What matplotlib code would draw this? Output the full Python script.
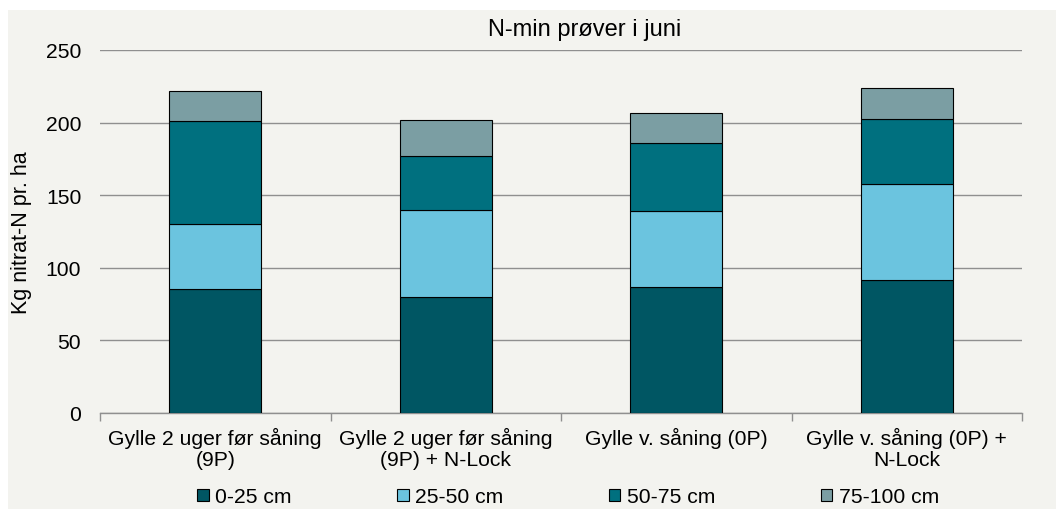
import numpy as np
import matplotlib
matplotlib.use("Agg")
import matplotlib.pyplot as plt
from matplotlib.patches import Rectangle

plt.rcParams['font.family'] = ['Liberation Sans', 'DejaVu Sans']

# data
categories = ["Gylle 2 uger før såning\n(9P)",
              "Gylle 2 uger før såning\n(9P) + N-Lock",
              "Gylle v. såning (0P)",
              "Gylle v. såning (0P) +\nN-Lock"]
layers = ["0-25 cm", "25-50 cm", "50-75 cm", "75-100 cm"]
d_0_25 = [85.4, 79.7, 86.6, 91.4]
d_25_50 = [44.8, 60.3, 52.7, 66.1]
d_50_75 = [70.7, 37.2, 46.4, 44.7]
d_75_100 = [20.9, 24.6, 20.7, 21.6]
colors = ["#005663", "#6bc4df", "#00707f", "#7b9ea3"]

values = [d_0_25, d_25_50, d_50_75, d_75_100]

fig = plt.figure(figsize=(10.56, 5.10), dpi=100)
fig.patch.set_facecolor("white")
fig.patches.append(Rectangle((8 / 1056, 0), 1, 499 / 510, transform=fig.transFigure,
                             facecolor="#f3f3ef", edgecolor="none", zorder=-10))

ax = fig.add_axes([100 / 1056, 96 / 510, 922 / 1056, 363 / 510])
ax.set_facecolor("none")

x = np.arange(len(categories))
bottom = np.zeros(len(categories))
for vals, lab, col in zip(values, layers, colors):
    ax.bar(x, vals, 0.40, bottom=bottom, color=col, edgecolor="black",
           linewidth=0.8, label=lab, zorder=3)
    bottom += np.array(vals)

ax.set_xlim(-0.5, 3.5)
ax.set_ylim(0, 250)
ax.set_yticks(np.arange(0, 251, 50))
ax.yaxis.grid(True, color="#8f8f8f", linewidth=1.0, zorder=0)
ax.set_axisbelow(True)
for s in ["top", "right", "left"]:
    ax.spines[s].set_visible(False)
ax.spines["bottom"].set_color("#8f8f8f")
ax.spines["bottom"].set_linewidth(1.0)

ax.set_xticks(x)
ax.set_xticklabels(categories, fontsize=15.2, linespacing=1.13)
ax.tick_params(axis="x", which="major", length=0, pad=10)
ax.set_xticks(np.arange(-0.5, 4, 1.0), minor=True)
ax.tick_params(axis="x", which="minor", length=6, color="#8f8f8f", width=1)
ax.tick_params(axis="y", length=0, labelsize=15.2, pad=13.5)

ax.set_ylabel("Kg nitrat-N pr. ha", fontsize=15.5)
ax.yaxis.set_label_coords(-68 / 922, 0.5)
fig.text(585 / 1056, 1 - 30 / 510, "N-min prøver i juni", fontsize=17,
         ha="center", va="center")

fig.legend(loc="center", bbox_to_anchor=(568 / 1056, 12 / 510), ncol=4,
           frameon=False, fontsize=15.2, handlelength=0.55, handleheight=0.55,
           handletextpad=0.3, columnspacing=5.0)

fig.savefig("out.png", dpi=100)
